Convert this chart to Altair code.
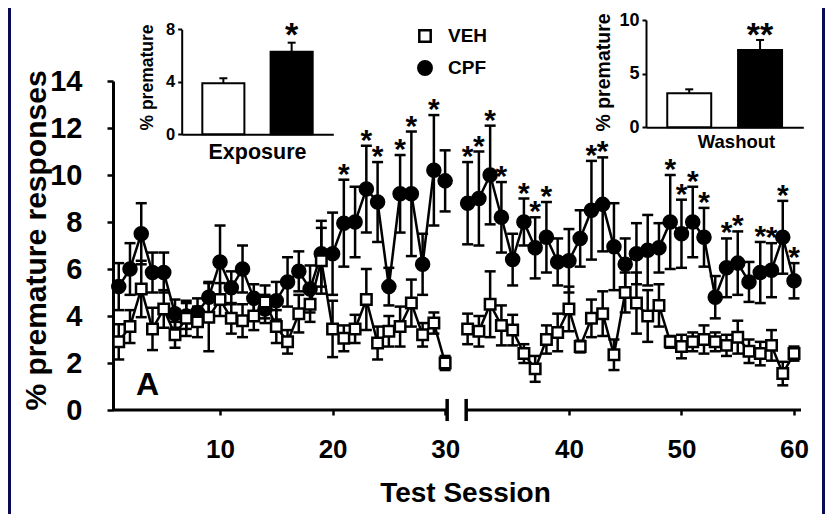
import altair as alt
import pandas as pd

# ---------------- data ----------------
sessions = list(range(1, 61))
veh_mean = [2.9, 3.55, 5.15, 3.45, 4.3, 3.2, 3.9, 3.75, 3.95, 4.7,
            3.9, 3.8, 4.0, 4.6, 3.55, 2.9, 4.1, 4.5, 6.35, 3.45,
            3.05, 3.45, 4.7, 2.85, 3.35, 3.55, 4.55, 3.2, 3.7, 2.0,
            3.45, 3.35, 4.5, 3.6, 3.4, 2.4, 1.75, 3.0, 3.3, 4.3,
            2.7, 3.9, 4.1, 2.35, 5.0, 4.55, 4.0, 4.45, 2.9, 2.7,
            2.9, 3.0, 2.9, 2.75, 3.1, 2.5, 2.4, 2.75, 1.55, 2.4]
veh_sem = [0.75, 0.7, 1.2, 0.9, 0.8, 0.55, 0.75, 0.65, 1.45, 0.7,
           0.65, 0.7, 0.6, 0.7, 0.7, 0.5, 0.8, 0.75, 1.4, 1.2,
           0.55, 0.6, 1.3, 0.7, 0.65, 0.85, 1.0, 0.5, 0.45, 0.3,
           0.65, 0.65, 1.4, 0.85, 0.65, 0.4, 0.55, 0.6, 0.8, 0.95,
           0.25, 0.8, 0.95, 0.65, 0.85, 1.3, 1.1, 0.9, 0.25, 0.5,
           0.4, 0.6, 0.4, 0.45, 0.7, 0.5, 0.5, 0.65, 0.5, 0.3]
cpf_mean = [5.25, 6.0, 7.5, 5.85, 5.85, 4.1, 4.0, 4.15, 4.8, 6.3,
            5.2, 6.0, 4.75, 4.3, 4.65, 5.45, 5.9, 5.15, 6.65, 6.65,
            7.95, 8.0, 9.4, 8.85, 5.25, 9.2, 9.2, 6.2, 10.2, 9.75,
            8.8, 9.0, 10.0, 8.2, 6.4, 8.0, 6.9, 7.35, 6.3, 6.35,
            7.3, 8.5, 8.75, 6.95, 6.2, 6.65, 6.8, 6.9, 8.0, 7.5,
            8.0, 7.35, 4.8, 6.05, 6.25, 5.45, 5.85, 5.95, 7.35, 5.5]
cpf_sem = [1.0, 1.1, 1.3, 0.85, 0.85, 0.6, 0.55, 0.6, 0.65, 1.55,
           0.7, 1.0, 0.6, 0.6, 0.8, 1.05, 0.85, 1.0, 1.4, 1.75,
           1.85, 1.5, 1.85, 1.7, 0.8, 1.65, 2.65, 1.3, 2.35, 1.3,
           1.75, 2.0, 2.1, 1.5, 1.1, 1.0, 1.3, 1.5, 1.0, 1.35,
           1.2, 2.1, 2.0, 1.85, 1.1, 1.3, 1.5, 1.05, 2.0, 1.45,
           1.5, 1.25, 0.9, 1.25, 1.35, 0.85, 1.3, 1.15, 1.55, 0.75]
sig_sessions = [21, 23, 24, 26, 27, 29, 31, 32, 33, 34, 36, 37, 38, 42, 43,
                49, 50, 51, 52, 54, 55, 57, 58, 59, 60]

groups = ["VEH", "CPF"]
exposure_mean = [3.89, 6.29]
exposure_sem = [0.38, 0.69]
exposure_sig = ["", "*"]
washout_mean = [3.17, 7.2]
washout_sem = [0.37, 0.94]
washout_sig = ["", "**"]

x_tick_values = [10, 20, 30, 41, 51, 61]
y_tick_values = [0, 2, 4, 6, 8, 10, 12, 14]

# ---------------- tables ----------------
rows = []
for g, means, sems in (("CPF", cpf_mean, cpf_sem), ("VEH", veh_mean, veh_sem)):
    for s, m, e in zip(sessions, means, sems):
        rows.append({"group": g, "session": s, "mean": m, "sem": e})
df = pd.DataFrame(rows)
df["xpos"] = df["session"] + (df["session"] > 30).astype(int)   # axis break gap
df["lo"] = df["mean"] - df["sem"]
df["hi"] = df["mean"] + df["sem"]
df["segment"] = df["group"] + (df["session"] > 30).map({True: "_b", False: "_a"})
stars_df = df[(df["group"] == "CPF") & (df["session"].isin(sig_sessions))].copy()
stars_df["txt"] = "*"

exp_df = pd.DataFrame({"group": groups, "mean": exposure_mean, "sem": exposure_sem,
                       "sig": exposure_sig})
exp_df["hi"] = exp_df["mean"] + exp_df["sem"]
wash_df = pd.DataFrame({"group": groups, "mean": washout_mean, "sem": washout_sem,
                        "sig": washout_sig})
wash_df["hi"] = wash_df["mean"] + wash_df["sem"]
legend_df = pd.DataFrame({"group": groups})
one = pd.DataFrame({"k": [0]})

FONT = "Liberation Sans, Arial, Helvetica, sans-serif"
NAVY = "#0a0a55"

is_veh = alt.datum.group == "VEH"
shape_cond = alt.condition(is_veh, alt.value("square"), alt.value("circle"))
fill_cond = alt.condition(is_veh, alt.value("white"), alt.value("black"))
size_cond = alt.condition(is_veh, alt.value(110), alt.value(170))

# ---------------- main chart ----------------
xscale = alt.Scale(domain=[0.49, 61.62], nice=False, zero=False)
yscale = alt.Scale(domain=[0, 14], nice=False, zero=False)

x_axis = alt.Axis(values=x_tick_values,
                  labelExpr="datum.value > 30 ? format(datum.value - 1, 'd') : format(datum.value, 'd')",
                  domain=False, tickSize=5, tickWidth=2.5, tickColor="black",
                  labelFont=FONT, labelFontSize=26, labelFontWeight="bold",
                  labelColor="black", labelPadding=21, labelFlush=False, labelOverlap=False,
                  grid=False, title="Test Session", titleFont=FONT, titleFontSize=28,
                  titleFontWeight="bold", titleColor="black", titleX=352, titleY=83,
                  titleAlign="center", titleBaseline="middle")
y_axis = alt.Axis(values=y_tick_values, domainWidth=3, domainColor="black",
                  tickSize=6, tickWidth=2.5, tickColor="black",
                  labelFont=FONT, labelFontSize=29, labelFontWeight="bold",
                  labelColor="black", labelPadding=25, labelFlush=False, grid=False,
                  title="% premature responses", titleFont=FONT, titleFontSize=30,
                  titleFontWeight="bold", titleColor="black", titleAngle=270,
                  titleX=-77, titleY=159, titleAlign="center", titleBaseline="middle")

X = alt.X("xpos:Q", scale=xscale, axis=x_axis)


def Y(field):
    return alt.Y(field, type="quantitative", scale=yscale, axis=y_axis)


base = alt.Chart(df)

axis_seg1 = alt.Chart(one).mark_rule(color="black", strokeWidth=3).encode(
    x=alt.datum(0.49), x2=alt.datum(30.18), y=alt.datum(0))
axis_seg2 = alt.Chart(one).mark_rule(color="black", strokeWidth=3).encode(
    x=alt.datum(31.87), x2=alt.datum(61.62), y=alt.datum(0))
brk1 = alt.Chart(one).mark_rule(color="black", strokeWidth=3.5).encode(
    x=alt.datum(30.18), y=alt.datum(-0.47), y2=alt.datum(0.47))
brk2 = alt.Chart(one).mark_rule(color="black", strokeWidth=3.5).encode(
    x=alt.datum(31.87), y=alt.datum(-0.47), y2=alt.datum(0.47))

err = base.mark_rule(color="black", strokeWidth=2.5).encode(x=X, y=Y("lo"), y2="hi:Q")
cap_lo = base.mark_tick(color="black", orient="horizontal", size=11, thickness=2.5,
                        opacity=1).encode(x=X, y=Y("lo"))
cap_hi = base.mark_tick(color="black", orient="horizontal", size=11, thickness=2.5,
                        opacity=1).encode(x=X, y=Y("hi"))
lines = base.mark_line(color="black", strokeWidth=2.5).encode(
    x=X, y=Y("mean"), detail="segment:N")
points = base.mark_point(filled=True, stroke="black", strokeWidth=2.5, opacity=1).encode(
    x=X, y=Y("mean"), shape=shape_cond, fill=fill_cond, size=size_cond)
stars = alt.Chart(stars_df).mark_text(font=FONT, fontSize=30, fontWeight="bold",
                                      color="black", dy=4, baseline="alphabetic",
                                      align="center").encode(
    x=X, y=Y("hi"), text="txt:N")
label_a = alt.Chart(one).mark_text(text="A", font=FONT, fontSize=32, fontWeight="bold",
                                   color="black", align="left",
                                   baseline="alphabetic").encode(
    x=alt.datum(2.53), y=alt.datum(0.64))

frame_l = alt.Chart(one).mark_rect(color=NAVY).encode(
    x=alt.value(-105), x2=alt.value(-102), y=alt.value(-73), y2=alt.value(433))
frame_r = alt.Chart(one).mark_rect(color=NAVY).encode(
    x=alt.value(709), x2=alt.value(712), y=alt.value(-73), y2=alt.value(433))

main = alt.layer(frame_l, frame_r, axis_seg1, axis_seg2, brk1, brk2, err, cap_lo, cap_hi,
                 lines, points, stars, label_a)

# ---------------- legend (VEH / CPF) ----------------
leg_y = alt.Y("group:N", sort=groups,
              scale=alt.Scale(type="point", domain=groups, range=[-45, -13], padding=0),
              axis=None)
leg_sym = alt.Chart(legend_df).mark_point(filled=True, stroke="black", strokeWidth=2.5,
                                          opacity=1).encode(
    x=alt.value(312), y=leg_y, shape=shape_cond, fill=fill_cond,
    size=alt.condition(is_veh, alt.value(130), alt.value(180)))
leg_txt = alt.Chart(legend_df).mark_text(font=FONT, fontSize=19, fontWeight="bold",
                                         color="black", align="left",
                                         baseline="middle").encode(
    x=alt.value(335), y=leg_y, text="group:N")
legend_layer = alt.layer(leg_sym, leg_txt)


# ---------------- insets ----------------
def inset(data, ymax, yvals, yrange, xrange, p_in, p_out, yoff, xoff,
          ytitle_x, ytitle_y, xtitle, xtitle_x, xtitle_y, lab_fs, ytitle_fs, xtitle_fs,
          star_dy, cap):
    xs = alt.X("group:N", sort=groups,
               scale=alt.Scale(domain=groups, range=xrange, paddingInner=p_in,
                               paddingOuter=p_out),
               axis=alt.Axis(orient="bottom", offset=xoff, labels=False, ticks=False,
                             domainWidth=2, domainColor="black", grid=False,
                             title=xtitle, titleFont=FONT, titleFontSize=xtitle_fs,
                             titleFontWeight="bold", titleColor="black",
                             titleX=xtitle_x, titleY=xtitle_y, titleAlign="center",
                             titleBaseline="middle"))
    yax = alt.Axis(orient="left", offset=yoff, values=yvals, tickSize=4, tickWidth=2,
                   tickColor="black", domainWidth=2, domainColor="black", grid=False,
                   labelFont=FONT, labelFontSize=lab_fs, labelFontWeight="bold",
                   labelColor="black", labelPadding=3, labelFlush=False,
                   title="% premature", titleFont=FONT, titleFontSize=ytitle_fs,
                   titleFontWeight="bold", titleColor="black", titleAngle=270,
                   titleX=ytitle_x, titleY=ytitle_y, titleAlign="center",
                   titleBaseline="middle")
    ysc = alt.Scale(domain=[0, ymax], range=yrange, nice=False, zero=True)

    def YY(f):
        return alt.Y(f, type="quantitative", scale=ysc, axis=yax)

    b = alt.Chart(data)
    bars = b.mark_bar(stroke="black", strokeWidth=2).encode(
        x=xs, y=YY("mean"), fill=fill_cond)
    e = b.mark_rule(color="black", strokeWidth=2).encode(x=xs, y=YY("mean"), y2="hi:Q")
    c = b.mark_tick(color="black", orient="horizontal", size=cap, thickness=2,
                    opacity=1).encode(x=xs, y=YY("hi"))
    s = b.mark_text(font=FONT, fontSize=34, fontWeight="bold", color="black",
                    dy=star_dy, baseline="alphabetic", align="center").encode(
        x=xs, y=YY("hi"), text="sig:N")
    return alt.layer(bars, e, c, s)


exp_inset = inset(exp_df, 8, [0, 4, 8], [53.3, -51.7], [68.7, 220.3], 0.384, 0.302,
                  -68.7, -275.7, -34.7, -4, "Exposure", 144, 17.7, 16.5, 17.5, 21.5, 3, 8)
wash_inset = inset(wash_df, 10, [0, 5, 10], [46.3, -61], [533, 690.3], 0.379, 0.3,
                   -533, -282.7, -43, -9, "Washout", 623, 14.4, 18, 19.5, 18.5, 6, 8)

chart = alt.layer(main, legend_layer, exp_inset, wash_inset).resolve_scale(
    x="independent", y="independent").properties(
    width=688, height=329, autosize="none",
    padding={"left": 105, "top": 73, "right": 24, "bottom": 104},
    background="white",
).configure_view(strokeWidth=0)

chart.save("out.html", embed_options={"renderer": "svg", "actions": False})
